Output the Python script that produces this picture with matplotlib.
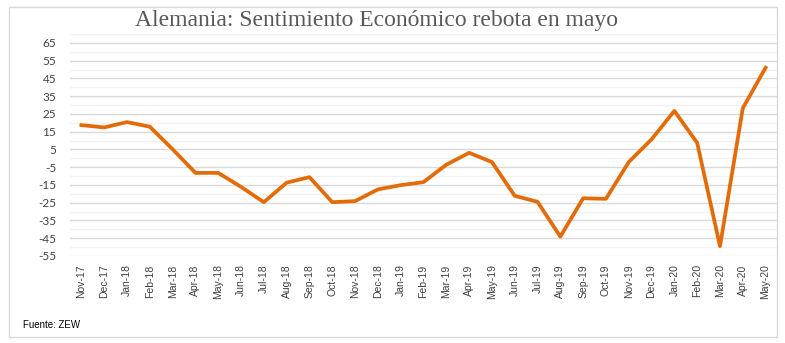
import matplotlib.pyplot as plt
from matplotlib.patches import Rectangle

plt.rcParams['axes.unicode_minus'] = False

months = ['Nov-17', 'Dec-17', 'Jan-18', 'Feb-18', 'Mar-18', 'Apr-18', 'May-18',
          'Jun-18', 'Jul-18', 'Aug-18', 'Sep-18', 'Oct-18', 'Nov-18', 'Dec-18',
          'Jan-19', 'Feb-19', 'Mar-19', 'Apr-19', 'May-19', 'Jun-19', 'Jul-19',
          'Aug-19', 'Sep-19', 'Oct-19', 'Nov-19', 'Dec-19', 'Jan-20', 'Feb-20',
          'Mar-20', 'Apr-20', 'May-20']
zew = [18.7, 17.4, 20.4, 17.8, 5.1, -8.2, -8.2, -16.1, -24.7, -13.7, -10.6,
       -24.7, -24.1, -17.5, -15.1, -13.4, -3.6, 3.1, -2.1, -21.1, -24.5, -44.1,
       -22.5, -22.8, -2.1, 10.7, 26.7, 8.7, -49.5, 28.2, 51.0]
yticks = list(range(-55, 66, 10))

fig = plt.figure(figsize=(7.85, 3.43), dpi=100)
ax = fig.add_axes([70 / 785, 1 - 256 / 343, 707 / 785, 222 / 343])

x = list(range(len(months)))
ax.plot(x, zew, color='#E36C09', lw=2.7, solid_joinstyle='round', zorder=3)

ax.set_xlim(-0.5, len(months) - 0.5)
ax.set_ylim(-55, 70)
ax.set_yticks(yticks)
ax.set_yticks(list(range(-50, 71, 10)), minor=True)
ax.set_xticks(x)
ax.set_xticklabels(months, rotation=90, fontsize=7.5, family='Liberation Sans', color='#404040')
for lbl in ax.get_yticklabels():
    lbl.set_family('Lato')
ax.tick_params(axis='y', labelsize=8.5, colors='#404040', length=0, pad=10)
ax.tick_params(axis='y', which='minor', length=0)
ax.tick_params(axis='x', length=0, pad=6)
ax.grid(axis='y', which='major', color='#d9d9d9', lw=1)
ax.grid(axis='y', which='minor', color='#f2f2f2', lw=1)
ax.set_axisbelow(True)
for s in ax.spines.values():
    s.set_visible(False)

fig.text(0.48, 0.94, 'Alemania: Sentimiento Económico rebota en mayo',
         ha='center', va='center', fontsize=17, family='Liberation Serif', color='#595959')
fig.text(23 / 785, 1 - 325 / 343, 'Fuente: ZEW', fontsize=7, family='Liberation Sans',
         va='center')

fig.patches.append(Rectangle((9 / 785, 1 - 337 / 343), 768 / 785, 330 / 343,
                             transform=fig.transFigure, fill=False,
                             edgecolor='#d9d9d9', lw=1))

fig.savefig('out.png', dpi=100)
